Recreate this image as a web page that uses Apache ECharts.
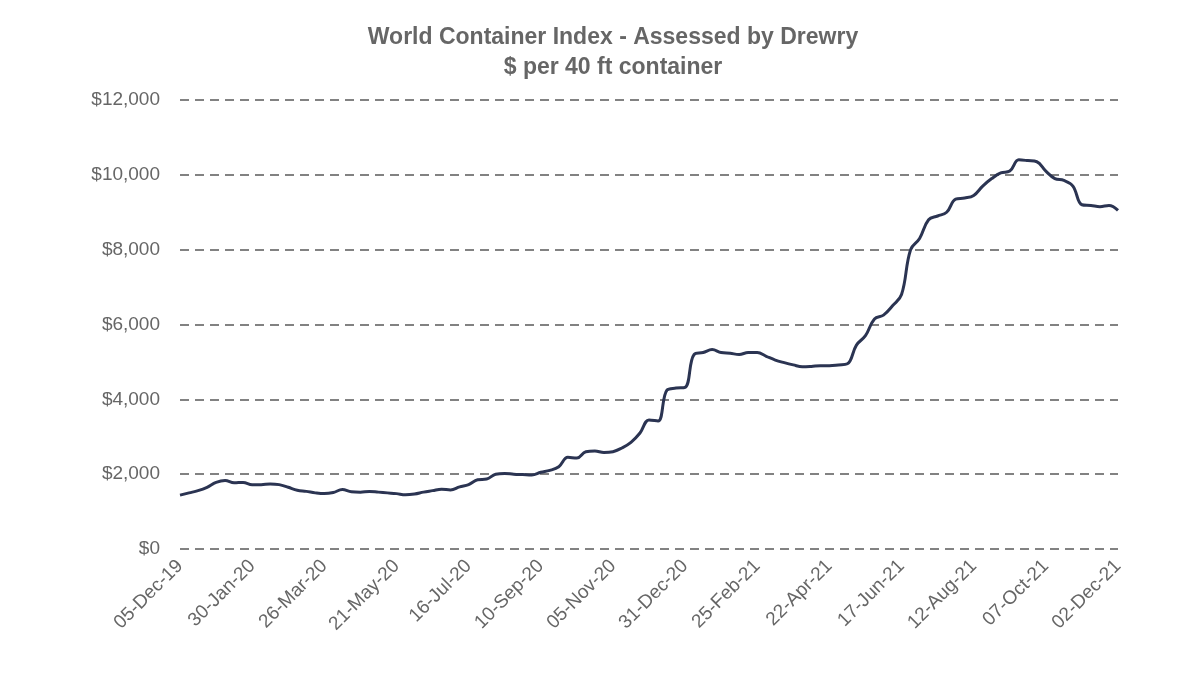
<!DOCTYPE html>
<html>
<head>
<meta charset="utf-8">
<script src="https://cdn.jsdelivr.net/npm/echarts@6/dist/echarts.min.js"></script>
<style>html,body{margin:0;background:#fff}#chart{width:1200px;height:683px}</style>
</head>
<body>
<div id="chart"></div>
<script>
// weekly index, first week 05-Dec-19
var startDate = new Date(Date.UTC(2019, 11, 5));
var months = ['Jan','Feb','Mar','Apr','May','Jun','Jul','Aug','Sep','Oct','Nov','Dec'];
var values = [
  1440, 1500, 1560, 1650, 1780, 1830, 1770, 1780, 1720, 1720,
  1740, 1720, 1650, 1570, 1540, 1500, 1480, 1510, 1590, 1530,
  1520, 1540, 1520, 1500, 1480, 1450, 1470, 1520, 1560, 1600,
  1580, 1660, 1720, 1850, 1870, 2000, 2020, 2000, 1990, 1980,
  2050, 2100, 2200, 2450, 2430, 2600, 2620, 2580, 2600, 2700,
  2850, 3100, 3450, 3420, 4250, 4300, 4320, 5200, 5250, 5330,
  5250, 5230, 5200, 5250, 5250, 5150, 5050, 4980, 4920, 4870,
  4880, 4900, 4900, 4920, 4950, 5450, 5700, 6150, 6250, 6500,
  6800, 8000, 8300, 8800, 8900, 9000, 9350, 9380, 9450, 9700,
  9900, 10050, 10100, 10400, 10380, 10350, 10100, 9900, 9850, 9700,
  9200, 9180, 9150, 9180, 9050
];
var dates = [];
for (var i = 0; i < values.length; i++) {
  var d = new Date(startDate.getTime() + i * 7 * 86400000);
  var dd = d.getUTCDate() < 10 ? '0' + d.getUTCDate() : '' + d.getUTCDate();
  dates.push(dd + '-' + months[d.getUTCMonth()] + '-' + String(d.getUTCFullYear()).slice(2));
}
var chart = echarts.init(document.getElementById('chart'));
chart.setOption({
  animation: false,
  title: {
    text: 'World Container Index - Assessed by Drewry\n$ per 40 ft container',
    left: 608, top: 18, textAlign: 'center',
    textStyle: { fontFamily: 'Liberation Sans', fontSize: 23, fontWeight: 'bold', color: '#666666', lineHeight: 30 }
  },
  grid: { left: 180, right: 82, top: 100, bottom: 134 },
  xAxis: {
    type: 'category', data: dates, boundaryGap: false,
    axisLine: { show: false }, axisTick: { show: false },
    axisLabel: { interval: 7, rotate: 45, fontFamily: 'Liberation Sans', fontSize: 19, color: '#666666', margin: 14 }
  },
  yAxis: {
    type: 'value', min: 0, max: 12000, interval: 2000,
    axisLine: { show: false }, axisTick: { show: false },
    axisLabel: { fontFamily: 'Liberation Sans', fontSize: 19, color: '#666666', margin: 20,
      formatter: function (v) { return '$' + v.toLocaleString('en-US'); } },
    splitLine: { lineStyle: { type: [9, 6], color: '#595959', width: 1.5 } }
  },
  series: [{
    type: 'line', data: values, smooth: 0.4, showSymbol: false,
    lineStyle: { color: '#2b3452', width: 3 }
  }]
});
</script>
</body>
</html>
